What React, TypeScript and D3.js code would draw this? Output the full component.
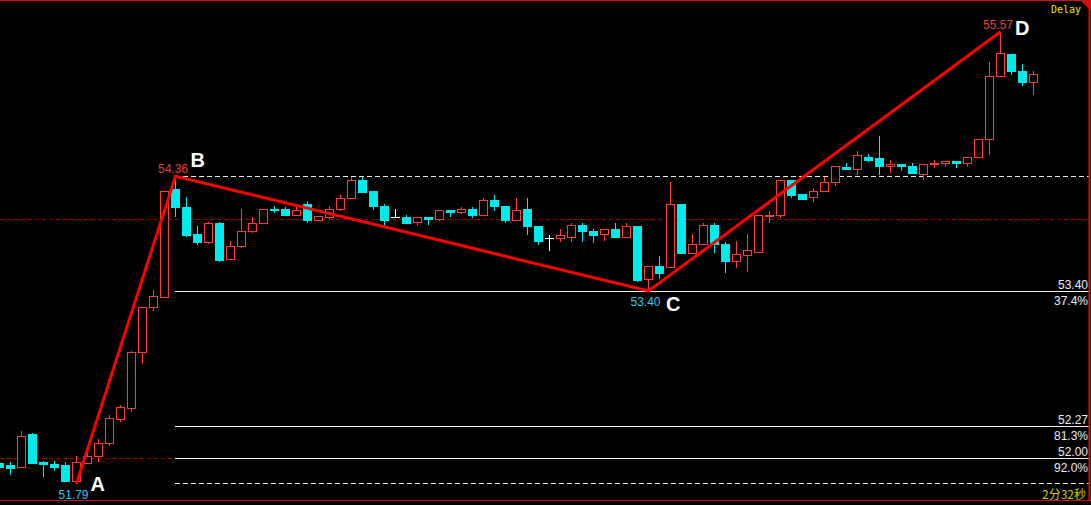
import React from 'react'
import * as d3 from 'd3'

const W = 1091
const H = 505

// bar OHLC, oldest first
const opens = [
  51.96, 51.94, 51.93, 52.2, 51.97, 51.95, 51.94, 51.81, 51.96, 52.02,
  52.13, 52.33, 52.42, 52.89, 53.27, 53.35, 54.25, 54.1, 53.88, 53.81,
  53.97, 53.67, 53.78, 53.9, 53.97, 54.09, 54.09, 54.04, 54.13, 53.99,
  54.02, 54.09, 54.18, 54.33, 54.24, 54.11, 54.02, 54.02, 53.98, 54.02,
  54.0, 54.08, 54.06, 54.09, 54.04, 54.16, 54.11, 53.99, 54.09, 53.94,
  53.84, 53.84, 53.85, 53.95, 53.9, 53.88, 53.92, 53.85, 53.94, 53.5,
  53.61, 53.6, 54.13, 53.72, 53.79, 53.95, 53.79, 53.65, 53.7, 53.73,
  54.03, 54.04, 54.33, 54.21, 54.19, 54.24, 54.31, 54.44, 54.42, 54.52,
  54.51, 54.45, 54.46, 54.45, 54.38, 54.46, 54.47, 54.49, 54.47, 54.52,
  54.67, 55.2, 55.38, 55.24, 55.15,
]
const highs = [
  51.97, 51.97, 52.23, 52.21, 51.98, 51.98, 51.97, 52.02, 52.09, 52.16,
  52.36, 52.45, 52.9, 53.27, 53.41, 54.24, 54.36, 54.19, 53.94, 53.98,
  53.98, 53.82, 54.09, 54.02, 54.09, 54.11, 54.1, 54.11, 54.15, 54.03,
  54.11, 54.2, 54.35, 54.35, 54.24, 54.13, 54.09, 54.04, 54.02, 54.02,
  54.08, 54.08, 54.1, 54.1, 54.18, 54.2, 54.11, 54.18, 54.18, 53.94,
  53.87, 53.92, 53.97, 53.97, 53.92, 53.92, 53.97, 53.97, 53.94, 53.61,
  53.69, 54.31, 54.13, 53.88, 53.97, 53.97, 53.81, 53.82, 53.88, 54.04,
  54.07, 54.33, 54.33, 54.21, 54.26, 54.35, 54.45, 54.47, 54.57, 54.55,
  54.7, 54.5, 54.46, 54.47, 54.46, 54.5, 54.49, 54.49, 54.52, 54.67,
  55.32, 55.57, 55.38, 55.3, 55.24,
]
const lows = [
  51.92, 51.87, 51.93, 51.96, 51.85, 51.9, 51.81, 51.79, 51.96, 51.98,
  52.11, 52.31, 52.4, 52.8, 53.24, 53.35, 54.03, 53.86, 53.79, 53.8,
  53.65, 53.67, 53.77, 53.89, 53.97, 54.06, 54.04, 54.04, 53.98, 53.99,
  54.01, 54.08, 54.18, 54.23, 54.09, 53.94, 54.02, 53.97, 53.95, 53.96,
  53.99, 54.03, 54.05, 54.02, 54.04, 54.08, 53.98, 53.99, 53.88, 53.79,
  53.74, 53.82, 53.82, 53.82, 53.81, 53.83, 53.85, 53.85, 53.48, 53.4,
  53.51, 53.6, 53.72, 53.72, 53.79, 53.73, 53.56, 53.6, 53.57, 53.73,
  53.98, 54.02, 54.19, 54.17, 54.15, 54.24, 54.29, 54.42, 54.38, 54.49,
  54.38, 54.4, 54.41, 54.39, 54.34, 54.44, 54.45, 54.44, 54.45, 54.52,
  54.55, 55.2, 55.22, 55.12, 55.05,
]
const closes = [
  51.93, 51.92, 52.19, 51.96, 51.95, 51.93, 51.81, 51.97, 52.02, 52.13,
  52.34, 52.43, 52.89, 53.27, 53.36, 54.24, 54.1, 53.87, 53.81, 53.97,
  53.66, 53.78, 53.9, 53.97, 54.09, 54.08, 54.04, 54.08, 53.99, 54.03,
  54.09, 54.18, 54.33, 54.23, 54.11, 53.99, 54.02, 53.97, 54.02, 54.0,
  54.08, 54.06, 54.09, 54.04, 54.16, 54.11, 53.99, 54.08, 53.94, 53.82,
  53.84, 53.87, 53.95, 53.9, 53.87, 53.92, 53.85, 53.94, 53.49, 53.61,
  53.55, 54.13, 53.72, 53.79, 53.95, 53.79, 53.65, 53.71, 53.74, 54.04,
  54.04, 54.33, 54.2, 54.17, 54.24, 54.31, 54.45, 54.42, 54.54, 54.5,
  54.45, 54.46, 54.45, 54.39, 54.46, 54.47, 54.49, 54.47, 54.52, 54.67,
  55.2, 55.39, 55.24, 55.15, 55.22,
]

// ABCD pattern pivots (bar index, price)
const pivotNames = ['A', 'B', 'C', 'D']
const pivotBars = [7, 16, 59, 91]
const pivotPrices = [51.79, 54.36, 53.4, 55.57]

// retracement levels of AB
const levelPrices = [54.36, 53.4, 52.27, 52.0, 51.79]
const levelPct = ['', '37.4%', '81.3%', '92.0%', '']
const levelDashed = [true, false, false, false, true]

// dark red reference lines
const refPrices = [54.0, 52.0]

const UP = '#ff3c3c'
const DOWN = '#00ecec'

const App = () => {
  const x = d3.scaleLinear().domain([0, 94]).range([-0.5, 1033.5])
  const y = d3.scaleLinear().domain([52, 55]).range([458.3, 99.8])
  const ry = (v: number) => Math.round(y(v))

  const bars = opens.map((o, i) => ({
    i,
    o,
    h: highs[i],
    l: lows[i],
    c: closes[i],
  }))

  const abcd = d3
    .line<number>()
    .x((d) => x(pivotBars[d]))
    .y((d) => y(pivotPrices[d]))(pivotBars.map((_, k) => k))

  const x0 = Math.floor(x(pivotBars[1]))

  // label offsets per pivot: [price dx (end), price dy, letter dx, letter dy]
  const labelPos = [
    [12, 16, 14, 8],
    [12.5, -3, 15, -9],
    [12, 15, 17.5, 20],
    [12.5, -2.5, 14.5, 3.5],
  ]

  return (
    <svg
      width={W}
      height={H}
      style={{ position: 'absolute', left: 0, top: 0, background: '#000' }}
    >
      <rect x={0} y={0} width={W} height={H} fill="#000" />

      {/* reference dashed red lines */}
      {refPrices.map((p) => (
        <line
          key={p}
          x1={0}
          x2={W - 2}
          y1={ry(p) + 0.5}
          y2={ry(p) + 0.5}
          stroke="#a00000"
          strokeDasharray="4,3"
          shapeRendering="crispEdges"
        />
      ))}

      {/* retracement levels */}
      {levelPrices.map((p, k) => {
        const yy = ry(p) + 0.5
        return (
          <g key={k}>
            <line
              x1={x0}
              x2={W - 2}
              y1={yy}
              y2={yy}
              stroke="#f0f0f0"
              strokeDasharray={levelDashed[k] ? '5,3' : undefined}
              shapeRendering="crispEdges"
            />
            {levelPct[k] && (
              <>
                <text
                  x={1088}
                  y={yy - 3}
                  textAnchor="end"
                  fontFamily="Liberation Sans, Arial, sans-serif"
                  fontSize={12}
                  fill="#e8ecf4"
                >
                  {p.toFixed(2)}
                </text>
                <text
                  x={1088}
                  y={yy + 13}
                  textAnchor="end"
                  fontFamily="Liberation Sans, Arial, sans-serif"
                  fontSize={12}
                  fill="#e8ecf4"
                >
                  {levelPct[k]}
                </text>
              </>
            )}
          </g>
        )
      })}

      {/* candles */}
      {bars.map((b) => {
        const cx = x(b.i)
        const up = b.c > b.o
        const flat = b.c === b.o
        const col = flat ? '#ffffff' : up ? UP : DOWN
        const top = ry(Math.max(b.o, b.c))
        const bot = ry(Math.min(b.o, b.c))
        const hi = ry(b.h)
        const lo = ry(b.l)
        const bh = bot - top
        return (
          <g key={b.i} shapeRendering="crispEdges">
            {hi < top && (
              <line x1={cx} x2={cx} y1={hi} y2={top} stroke={col} />
            )}
            {lo > bot && (
              <line x1={cx} x2={cx} y1={bot} y2={lo + 1} stroke={col} />
            )}
            {flat || bh < 1 ? (
              <rect x={cx - 4.5} y={top} width={9} height={1} fill={col} />
            ) : up ? (
              <rect
                x={cx - 4}
                y={top + 0.5}
                width={8}
                height={bh}
                fill="#000"
                stroke={col}
              />
            ) : (
              <rect x={cx - 4.5} y={top} width={9} height={bh + 1} fill={col} />
            )}
          </g>
        )
      })}

      {/* ABCD line */}
      <path d={abcd || ''} fill="none" stroke="#ff0000" strokeWidth={3} />

      {pivotNames.map((n, k) => {
        const px = x(pivotBars[k])
        const py = y(pivotPrices[k])
        const isHigh = k % 2 === 1
        const [pdx, pdy, ldx, ldy] = labelPos[k]
        return (
          <g key={n}>
            <text
              x={px + pdx}
              y={py + pdy}
              textAnchor="end"
              fontFamily="Liberation Sans, Arial, sans-serif"
              fontSize={12}
              fill={isHigh ? '#e83c3c' : '#38c4ec'}
            >
              {pivotPrices[k].toFixed(2)}
            </text>
            <text
              x={px + ldx}
              y={py + ldy}
              fontFamily="Liberation Sans, Arial, sans-serif"
              fontWeight="bold"
              fontSize={20}
              fill="#ffffff"
            >
              {n}
            </text>
          </g>
        )
      })}

      <text
        x={1081}
        y={13}
        textAnchor="end"
        fontFamily="DejaVu Sans Mono, monospace"
        fontSize={10}
        fill="#e8e800"
      >
        Delay
      </text>
      <text
        x={1086}
        y={499}
        textAnchor="end"
        fontFamily="Noto Sans CJK SC, sans-serif"
        fontSize={12}
        fill="#c8d000"
      >
        2分32秒
      </text>

      {/* frame */}
      <line x1={0} x2={W} y1={0.5} y2={0.5} stroke="#d01010" />
      <line x1={0} x2={W} y1={500.5} y2={500.5} stroke="#d01010" />
      <line x1={1089.5} x2={1089.5} y1={0} y2={501} stroke="#d01010" strokeWidth={2} />
      <path d="M1080,0 L1091,0 L1091,11 Z" fill="#d01010" />
    </svg>
  )
}

export default App
